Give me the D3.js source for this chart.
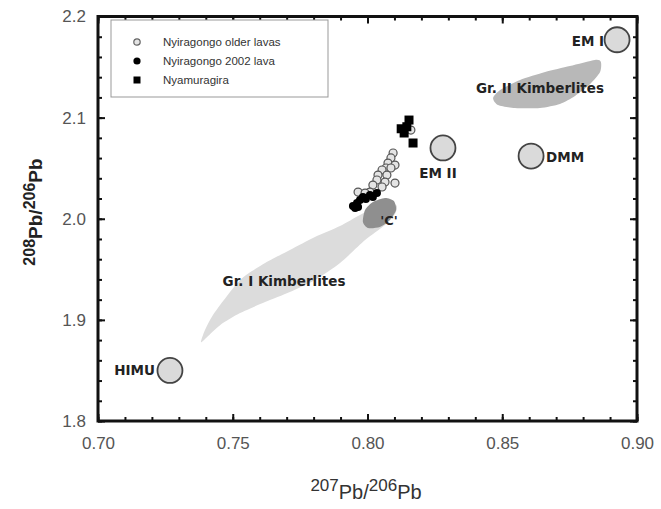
<!DOCTYPE html>
<html lang="en">

<head>
    <meta charset="UTF-8">
    <title>Pb isotopes</title>
    <style>
        body { margin: 0; background: #fff; }
        text { font-family: "Liberation Sans", Arial, sans-serif; }
        .lab { font-family: "DejaVu Sans", Verdana, sans-serif; font-weight: bold; fill: #222; }
    </style>
</head>

<body>
    <div id="my_dataviz"></div>
    <script src="https://d3js.org/d3.v7.min.js"></script>
    <script>

        // data: [207Pb/206Pb, 208Pb/206Pb]
        var olderLavas = [
            [0.8161, 2.0877], [0.8095, 2.0650], [0.8087, 2.0601], [0.8076, 2.0551],
            [0.8102, 2.0531], [0.8069, 2.0502], [0.8087, 2.0502], [0.8054, 2.0482],
            [0.8072, 2.0432], [0.8039, 2.0432], [0.8102, 2.0353], [0.8065, 2.0363],
            [0.8035, 2.0383], [0.8020, 2.0333], [0.8054, 2.0314], [0.8009, 2.0264],
            [0.7965, 2.0264], [0.7991, 2.0254]
        ];
        var lava2002 = [
            [0.8035, 2.0254], [0.8020, 2.0215], [0.7983, 2.0215], [0.7972, 2.0185],
            [0.7961, 2.0155], [0.7954, 2.0106], [0.7946, 2.0126], [0.7994, 2.0195],
            [0.7965, 2.0116], [0.8009, 2.0234]
        ];
        var nyamuragira = [
            [0.8154, 2.0976], [0.8125, 2.0890], [0.8136, 2.0848], [0.8146, 2.0910],
            [0.8169, 2.0749]
        ];

        // mantle end-members
        var endMembers = ["HIMU", "EM II", "DMM", "EM I"];
        var endX = [0.7267, 0.8280, 0.8607, 0.8926];
        var endY = [1.850, 2.070, 2.062, 2.177];

        // kimberlite fields and the 'C' field (outlines)
        var grIField = [
            [0.7382, 1.8780], [0.7397, 1.8899], [0.7434, 1.9077], [0.7527, 1.9393],
            [0.7620, 1.9562], [0.7712, 1.9690], [0.7805, 1.9819], [0.7898, 1.9928],
            [0.7972, 2.0037], [0.8039, 2.0126], [0.8083, 2.0166], [0.8109, 2.0126],
            [0.8102, 2.0047], [0.8065, 1.9938], [0.7991, 1.9789], [0.7898, 1.9562],
            [0.7805, 1.9394], [0.7712, 1.9275], [0.7620, 1.9176], [0.7527, 1.9067],
            [0.7453, 1.8948], [0.7404, 1.8829]
        ];
        var grIIField = [
            [0.8466, 2.1194], [0.8492, 2.1273], [0.8566, 2.1372], [0.8659, 2.1451],
            [0.8751, 2.1510], [0.8844, 2.1570], [0.8866, 2.1551], [0.8863, 2.1451],
            [0.8826, 2.1332], [0.8770, 2.1214], [0.8714, 2.1135], [0.8640, 2.1095],
            [0.8547, 2.1095], [0.8484, 2.1125]
        ];
        var cField = [
            [0.7983, 1.9967], [0.7991, 2.0086], [0.8020, 2.0165], [0.8065, 2.0205],
            [0.8098, 2.0175], [0.8106, 2.0086], [0.8083, 1.9987], [0.8046, 1.9918],
            [0.8002, 1.9908]
        ];

        var xMajor = [0.70, 0.75, 0.80, 0.85, 0.90];
        var yMajor = [1.8, 1.9, 2.0, 2.1, 2.2];

        var width = 661, height = 509;
        var mLeft = 98, mRight = 637, mTop = 16.5, mBottom = 421;

        var svg = d3.select("#my_dataviz")
            .append("svg")
            .attr("width", width)
            .attr("height", height);

        var x = d3.scaleLinear().domain([0.70, 0.90]).range([mLeft, mRight]);
        var y = d3.scaleLinear().domain([1.8, 2.2]).range([mBottom, mTop]);

        var xMinor = d3.range(0.70, 0.9001, 0.01).map(function (v) { return +v.toFixed(2); });
        var yMinor = d3.range(1.8, 2.2001, 0.02).map(function (v) { return +v.toFixed(2); });

        var blob = d3.line()
            .x(function (d) { return x(d[0]); })
            .y(function (d) { return y(d[1]); })
            .curve(d3.curveCardinalClosed.tension(0.3));

        // fields
        svg.append("path").datum(grIField).attr("d", blob).attr("fill", "#dcdcdc");
        svg.append("path").datum(grIIField).attr("d", blob).attr("fill", "#b8b8b8");
        svg.append("path").datum(cField).attr("d", blob).attr("fill", "#8f8f8f");

        // axes: ticks on all four sides, pointing in
        function minorAxis(axis, scale, vals, size) {
            return axis(scale).tickValues(vals).tickSize(size).tickFormat("");
        }
        var gAx = svg.append("g").attr("class", "axes");
        gAx.append("g").attr("transform", "translate(0," + mBottom + ")")
            .call(minorAxis(d3.axisBottom, x, xMinor, -4));
        gAx.append("g").attr("transform", "translate(0," + mTop + ")")
            .call(minorAxis(d3.axisTop, x, xMinor, -4));
        gAx.append("g").attr("transform", "translate(" + mLeft + ",0)")
            .call(minorAxis(d3.axisLeft, y, yMinor, -4));
        gAx.append("g").attr("transform", "translate(" + mRight + ",0)")
            .call(minorAxis(d3.axisRight, y, yMinor, -4));
        gAx.append("g").attr("transform", "translate(0," + mTop + ")")
            .call(minorAxis(d3.axisTop, x, xMajor, -7));
        gAx.append("g").attr("transform", "translate(" + mRight + ",0)")
            .call(minorAxis(d3.axisRight, y, yMajor, -7));

        var xAxis = gAx.append("g").attr("transform", "translate(0," + mBottom + ")")
            .call(d3.axisBottom(x).tickValues(xMajor).tickSize(-7).tickPadding(16)
                .tickFormat(d3.format(".2f")));
        var yAxis = gAx.append("g").attr("transform", "translate(" + mLeft + ",0)")
            .call(d3.axisLeft(y).tickValues(yMajor).tickSize(-7).tickPadding(12)
                .tickFormat(d3.format(".1f")));

        gAx.selectAll(".domain").remove();
        gAx.selectAll(".tick line").attr("stroke", "#111").attr("stroke-width", 2);
        xAxis.selectAll("text").attr("font-size", 17).attr("fill", "#555");
        yAxis.selectAll("text").attr("font-size", 17).attr("fill", "#555");

        // frame
        svg.append("rect")
            .attr("x", mLeft).attr("y", mTop)
            .attr("width", mRight - mLeft).attr("height", mBottom - mTop)
            .attr("fill", "none").attr("stroke", "#111").attr("stroke-width", 3);

        // end-member circles and labels
        var labAnchor = ["end", "middle", "start", "end"];
        var labDx = [-15, -5, 15, -13];
        var labDy = [5, 30, 6, 6];
        endMembers.forEach(function (name, i) {
            svg.append("circle")
                .attr("cx", x(endX[i])).attr("cy", y(endY[i])).attr("r", 12.5)
                .attr("fill", "#dadada").attr("stroke", "#444").attr("stroke-width", 1.8);
            svg.append("text").attr("class", "lab")
                .attr("x", x(endX[i]) + labDx[i]).attr("y", y(endY[i]) + labDy[i])
                .attr("text-anchor", labAnchor[i])
                .attr("font-size", 13.5)
                .text(name);
        });

        // field labels
        svg.append("text").attr("class", "lab").attr("x", 284).attr("y", 286)
            .attr("text-anchor", "middle").attr("font-size", 13.5)
            .text("Gr. I Kimberlites");
        svg.append("text").attr("class", "lab").attr("x", 540).attr("y", 93)
            .attr("text-anchor", "middle").attr("font-size", 13.5)
            .text("Gr. II Kimberlites");
        svg.append("text").attr("class", "lab").attr("x", 389).attr("y", 225)
            .attr("text-anchor", "middle").attr("font-size", 13)
            .text("'C'");

        // samples
        svg.append("g").selectAll("circle").data(olderLavas).enter().append("circle")
            .attr("cx", function (d) { return x(d[0]); })
            .attr("cy", function (d) { return y(d[1]); })
            .attr("r", 4).attr("fill", "#e4e4e4").attr("stroke", "#555").attr("stroke-width", 1.2);
        svg.append("g").selectAll("circle").data(lava2002).enter().append("circle")
            .attr("cx", function (d) { return x(d[0]); })
            .attr("cy", function (d) { return y(d[1]); })
            .attr("r", 4).attr("fill", "#000");
        svg.append("g").selectAll("rect").data(nyamuragira).enter().append("rect")
            .attr("x", function (d) { return x(d[0]) - 4.5; })
            .attr("y", function (d) { return y(d[1]) - 4.5; })
            .attr("width", 9).attr("height", 9).attr("fill", "#000");

        // legend
        var legendNames = ["Nyiragongo older lavas", "Nyiragongo 2002 lava", "Nyamuragira"];
        var lg = svg.append("g").attr("transform", "translate(111,20)");
        lg.append("rect").attr("width", 217).attr("height", 77)
            .attr("fill", "#fff").attr("stroke", "#999").attr("stroke-width", 1);
        legendNames.forEach(function (name, i) {
            var row = lg.append("g").attr("transform", "translate(0," + (22 + i * 19) + ")");
            if (i === 0) {
                row.append("circle").attr("cx", 26).attr("cy", 0).attr("r", 3.2)
                    .attr("fill", "#e4e4e4").attr("stroke", "#666").attr("stroke-width", 1.2);
            } else if (i === 1) {
                row.append("circle").attr("cx", 26).attr("cy", 0).attr("r", 3.6).attr("fill", "#000");
            } else {
                row.append("rect").attr("x", 22.5).attr("y", -3.5).attr("width", 7).attr("height", 7)
                    .attr("fill", "#000");
            }
            row.append("text").attr("x", 52).attr("y", 4).attr("font-size", 11.5)
                .attr("font-family", "'DejaVu Sans', Verdana, sans-serif")
                .attr("fill", "#333").text(name);
        });

        // axis titles
        var xt = svg.append("text").attr("x", 366).attr("y", 499).attr("text-anchor", "middle")
            .attr("fill", "#333");
        xt.append("tspan").attr("font-size", 17).attr("dy", -8).text("207");
        xt.append("tspan").attr("font-size", 20).attr("dy", 8).text("Pb/");
        xt.append("tspan").attr("font-size", 17).attr("dy", -8).text("206");
        xt.append("tspan").attr("font-size", 20).attr("dy", 8).text("Pb");

        var yt = svg.append("text").attr("transform", "translate(42,212)rotate(-90)")
            .attr("text-anchor", "middle").attr("fill", "#222").attr("font-weight", "bold");
        yt.append("tspan").attr("font-size", 16).attr("dy", -7).text("208");
        yt.append("tspan").attr("font-size", 19).attr("dy", 7).text("Pb/");
        yt.append("tspan").attr("font-size", 16).attr("dy", -7).text("206");
        yt.append("tspan").attr("font-size", 19).attr("dy", 7).text("Pb");

    </script>
</body>

</html>
